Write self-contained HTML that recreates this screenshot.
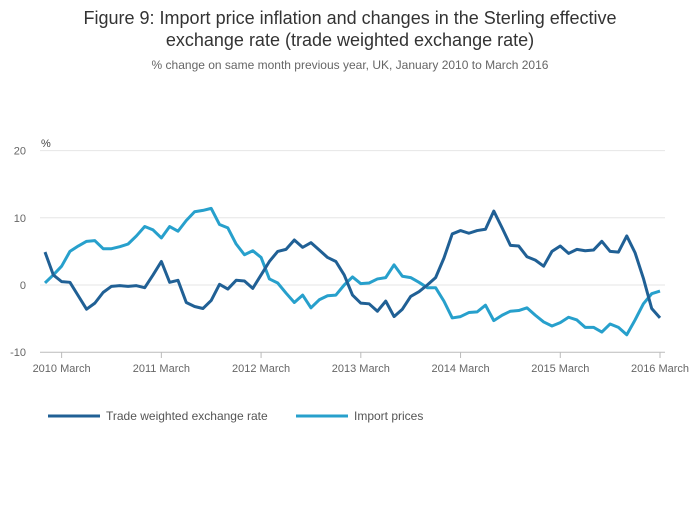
<!DOCTYPE html>
<html><head><meta charset="utf-8"><style>
body{margin:0;background:#fff;font-family:"Liberation Sans",sans-serif}
svg text{font-family:"Liberation Sans",sans-serif}
</style></head><body>
<svg id="c" width="700" height="502">
<text x="350" y="24" text-anchor="middle" font-size="18" fill="#333">Figure 9: Import price inflation and changes in the Sterling effective</text>
<text x="350" y="46" text-anchor="middle" font-size="18" fill="#333">exchange rate (trade weighted exchange rate)</text>
<text x="350" y="69" text-anchor="middle" font-size="12" fill="#666">% change on same month previous year, UK, January 2010 to March 2016</text>
<text x="41" y="147" font-size="11" fill="#444">%</text>
<g id="grid"></g><g id="series"></g>
<g>
<line x1="48" y1="416" x2="100" y2="416" stroke="#206095" stroke-width="3"/>
<text x="106" y="420" font-size="12" fill="#555">Trade weighted exchange rate</text>
<line x1="296" y1="416" x2="348" y2="416" stroke="#27a0cc" stroke-width="3"/>
<text x="354" y="420" font-size="12" fill="#555">Import prices</text>
</g>
</svg>
<script>
const yTicks=[20,10,0,-10];
const xTickLabels=["2010 March","2011 March","2012 March","2013 March","2014 March","2015 March","2016 March"];
const xTickMonths=[2,14,26,38,50,62,74];
const tradeWeighted=[4.9,1.5,0.5,0.4,-1.6,-3.6,-2.7,-1.1,-0.2,-0.1,-0.2,-0.1,
-0.4,1.5,3.5,0.4,0.7,-2.6,-3.2,-3.5,-2.3,0.1,-0.6,0.7,
0.6,-0.5,1.5,3.5,5.0,5.3,6.7,5.6,6.3,5.2,4.1,3.5,
1.5,-1.5,-2.7,-2.8,-3.9,-2.4,-4.7,-3.6,-1.7,-1.0,0.0,1.1,
4.0,7.6,8.1,7.7,8.1,8.3,11.0,8.5,5.9,5.8,4.2,3.7,
2.8,5.0,5.8,4.7,5.3,5.1,5.2,6.5,5.0,4.9,7.3,4.8,
1.0,-3.5,-4.9];
const importPrices=[0.3,1.5,2.8,5.0,5.8,6.5,6.6,5.4,5.4,5.7,6.1,7.3,
8.7,8.2,7.0,8.7,8.0,9.6,10.9,11.1,11.4,9.0,8.5,6.1,
4.5,5.1,4.1,0.9,0.3,-1.2,-2.6,-1.5,-3.4,-2.2,-1.6,-1.5,
0.0,1.2,0.2,0.3,0.9,1.1,3.0,1.3,1.1,0.4,-0.4,-0.4,
-2.4,-4.9,-4.7,-4.1,-4.0,-3.0,-5.3,-4.5,-3.9,-3.8,-3.4,-4.5,
-5.5,-6.1,-5.6,-4.8,-5.2,-6.3,-6.3,-7.0,-5.8,-6.3,-7.4,-5.2,
-2.8,-1.3,-0.9];
const NS="http://www.w3.org/2000/svg";
const x0=45,x1=660,nM=75;
const X=i=>x0+(x1-x0)*i/(nM-1);
const Y=v=>285-v*6.72;
function mk(tag,attrs,parent){const e=document.createElementNS(NS,tag);for(const k in attrs)e.setAttribute(k,attrs[k]);parent.appendChild(e);return e;}
const grid=document.getElementById('grid');
yTicks.forEach(t=>{
 const l=mk('line',{x1:40,x2:665,y1:Y(t),y2:Y(t),stroke:t===-10?'#bbb':'#e6e6e6','stroke-width':1},grid);
 
 
 const tx=mk('text',{x:26,y:Y(t)+4,'text-anchor':'end','font-size':11,fill:'#666'},grid);
 tx.textContent=t;
 
 
});
xTickMonths.forEach((m,i)=>{
 const l=mk('line',{x1:X(m),x2:X(m),y1:352,y2:358,stroke:'#bbb'},grid);
 
 
 const tx=mk('text',{x:X(m),y:372,'text-anchor':'middle','font-size':11,fill:'#666'},grid);
 tx.textContent=xTickLabels[i];
 
 
});
const sg=document.getElementById('series');
function line(data,color,name){
 const p=mk('polyline',{points:data.map((v,i)=>X(i)+','+Y(v)).join(' '),fill:'none',stroke:color,'stroke-width':3,'stroke-linejoin':'round'},sg);
 
 
}
line(importPrices,'#27a0cc','import-prices-line');
line(tradeWeighted,'#206095','trade-weighted-line');
</script>
</body></html>
